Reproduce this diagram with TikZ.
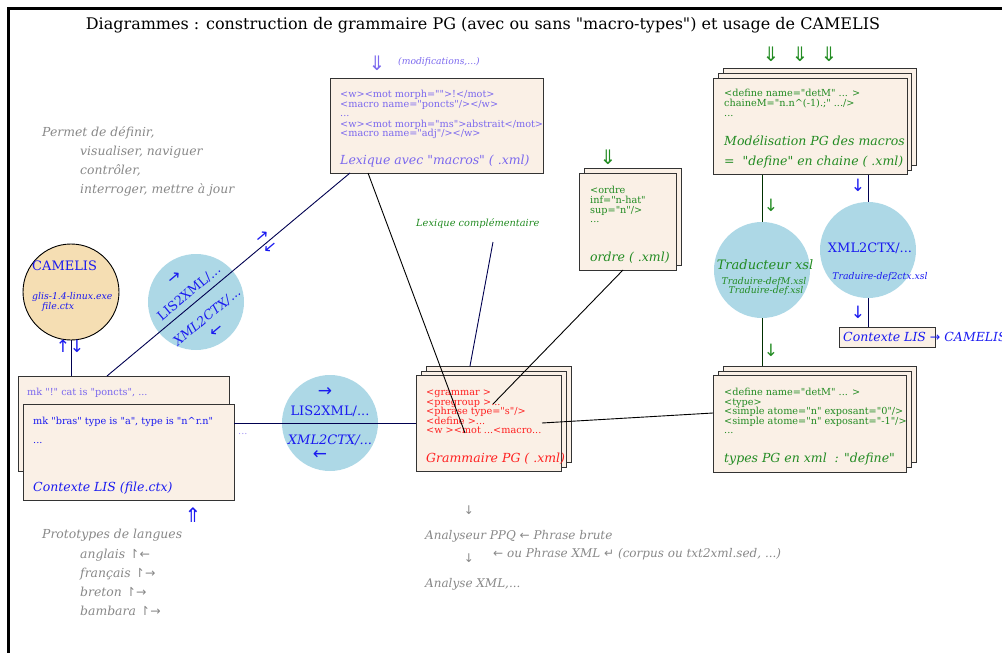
\documentclass[tikz,border=0pt]{standalone}
\usepackage{fontspec}
\setmainfont{DejaVu Serif}[Ligatures=TeXOff]
\newfontfamily\symf{DejaVu Sans}[Ligatures=TeXOff]
\definecolor{beige}{HTML}{FAF0E6}
\definecolor{lb}{HTML}{ADD8E6}
\definecolor{wheatc}{HTML}{F5DEB3}
\definecolor{purp}{HTML}{7B68EE}
\definecolor{grn}{HTML}{228B22}
\definecolor{blu}{HTML}{1A1AF0}
\definecolor{redc}{HTML}{FF2020}
\definecolor{gry}{HTML}{888888}
\definecolor{navy}{HTML}{000050}
\definecolor{dgrn}{HTML}{003000}
\definecolor{boxc}{HTML}{333333}
\tikzset{
  box/.style={draw=boxc, line width=1.3pt, fill=beige, anchor=north west, inner sep=0pt},
  ball/.style={circle, fill=lb, minimum size=96pt, inner sep=0pt},
  t/.style={inner sep=0pt, anchor=base west},
  tc/.style={inner sep=0pt, anchor=center},
  code/.style={t, font=\fontsize{9.7}{10}\selectfont},
  big/.style={t, font=\fontsize{12.5}{14}\selectfont\itshape},
  note/.style={t, gry, font=\fontsize{12.4}{14}\selectfont\itshape},
  sym/.style={tc, font=\symf\fontsize{20}{20}\selectfont},
  ar/.style={tc, font=\symf\fontsize{17}{18}\selectfont},
}
\begin{document}
\begin{tikzpicture}[x=1pt,y=-1pt]
\useasboundingbox (0,0) rectangle (1002,653);
% frame
\draw[line width=3pt] (8,653) -- (8,8) -- (1002,8);
\node[tc, font=\fontsize{16}{18}\selectfont] (title) at (483,25) {Diagrammes : construction de grammaire PG (avec ou sans "macro-types") et usage de CAMELIS};

% ---- vertical lines behind circles
\coordinate (m1) at (762,174);
\coordinate (m2) at (762,366);
\coordinate (n1) at (868,174);
\coordinate (n2) at (868,327);
\draw[dgrn, line width=0.9pt] (m1) -- (m2);
\draw[navy, line width=0.9pt] (n1) -- (n2);
\coordinate (cam1) at (71,340);
\coordinate (cam2) at (71,376);
\draw[navy, line width=0.9pt] (cam1) -- (cam2);

% ---- Lexique box
\node[box, minimum width=213pt, minimum height=95pt] (lex) at (330,78) {};
\node[sym, purp] (lexarr) at (377,63) {⇓};
\node[t, purp, font=\fontsize{9.2}{10}\selectfont\itshape] (modif) at (398,64) {(modifications,...)};
\node[code, purp] at (340,97) {<w><mot morph="">!</mot>};
\node[code, purp] at (340,107) {<macro name="poncts"/></w>};
\node[code, purp] at (340,116) {...};
\node[code, purp] at (340,127) {<w><mot morph="ms">abstrait</mot>};
\node[code, purp] at (340,136) {<macro name="adj"/></w>};
\node[big, purp] (lextitle) at (340,164) {Lexique avec "macros" ( .xml)};

% ---- Modelisation stacked box
\node[box, minimum width=193pt, minimum height=97pt] (mod3) at (723,68) {};
\node[box, minimum width=193pt, minimum height=97pt] (mod2) at (718,73) {};
\node[box, minimum width=194pt, minimum height=96pt] (mod) at (713,78) {};
\node[sym, grn] at (771,54) {⇓};
\node[sym, grn] at (800,54) {⇓};
\node[sym, grn] at (829,54) {⇓};
\node[code, grn] at (724,96) {<define name="detM" ... >};
\node[code, grn] at (724,106) {chaineM="n.n\^{}(-1).;" .../>};
\node[code, grn] at (724,116) {...};
\node[big, grn] at (724,145) {Modélisation PG des macros};
\node[big, grn] at (724,165) {=\ \ "define" en chaine ( .xml)};

% ---- ordre box
\node[box, minimum width=97pt, minimum height=97pt] (ord2) at (584,168) {};
\node[box, minimum width=97pt, minimum height=97pt] (ord) at (579,173) {};
\node[sym, grn] at (608,157) {⇓};
\node[code, grn] at (590,193) {<ordre};
\node[code, grn] at (590,203) {inf="n-hat"};
\node[code, grn] at (590,213) {sup="n"/>};
\node[code, grn] at (590,222) {...};
\node[big, grn] at (590,261) {ordre ( .xml)};

% ---- Lexique complementaire
\node[t, grn, font=\fontsize{9.8}{10}\selectfont\itshape] (lexc) at (416,226) {Lexique complémentaire};

% ---- Grammaire stacked box
\node[box, minimum width=145pt, minimum height=96pt] (gr3) at (426,366) {};
\node[box, minimum width=145pt, minimum height=96pt] (gr2) at (421,371) {};
\node[box, minimum width=145pt, minimum height=96pt] (gr) at (416,375) {};
\node[code, redc] at (426,395) {<grammar >};
\node[code, redc] at (426,405) {<pregroup >...};
\node[code, redc] at (426,414) {<phrase type="s"/>};
\node[code, redc] at (426,424) {<define >...};
\node[code, redc] at (426,433) {<w ><mot ...<macro...};
\node[big, redc] (grtitle) at (426,462) {Grammaire PG ( .xml)};

% ---- types PG stacked box
\node[box, minimum width=193pt, minimum height=96pt] (ty3) at (723,366) {};
\node[box, minimum width=193pt, minimum height=96pt] (ty2) at (718,371) {};
\node[box, minimum width=193pt, minimum height=97pt] (ty) at (713,375) {};
\node[code, grn] at (724,395) {<define name="detM" ... >};
\node[code, grn] at (724,405) {<type>};
\node[code, grn] at (724,414) {<simple atome="n" exposant="0"/>};
\node[code, grn] at (724,424) {<simple atome="n" exposant="-1"/>};
\node[code, grn] at (724,433) {...};
\node[big, grn] at (724,462) {types PG en xml\ \ : "define"};

% ---- Contexte LIS stacked
\node[box, minimum width=211pt, minimum height=95pt] (ctx2) at (18,376) {};
\node[code, purp] at (27,395) {mk "!" cat is "poncts", ...};
\node[code, purp!70] at (238,434) {...};
\node[box, minimum width=211pt, minimum height=96pt] (ctx) at (23,404) {};
\node[code, blu] at (33,424) {mk "bras" type is "a", type is "n\^{}r.n"};
\node[code, blu] at (33,443) {...};
\node[big, blu] (ctxtitle) at (33,491) {Contexte LIS (file.ctx)};
\node[sym, blu] at (193,515) {⇑};

% ---- connectors
\coordinate (lexA) at (350,173);
\coordinate (ctxA) at (107,376);
\coordinate (lexB) at (368,173);
\coordinate (grB) at (465,433);
\coordinate (ordA) at (623,270);
\coordinate (grC) at (493,404);
\coordinate (lcA) at (493,242);
\coordinate (grD) at (470,366);
\coordinate (tyA) at (713,413);
\coordinate (grE) at (542,423);
\coordinate (ctxB) at (234,423);
\coordinate (grF) at (416,423);

% ---- circles
\node[circle, draw=black, line width=0.9pt, fill=wheatc, minimum size=96pt, inner sep=0pt] (cam) at (71,292) {};
\node[t, blu, font=\fontsize{13}{14}\selectfont] at (32,270) {CAMELIS};
\node[t, blu, font=\fontsize{9.3}{10}\selectfont\itshape] at (32,299) {glis-1.4-linux.exe};
\node[t, blu, font=\fontsize{9.3}{10}\selectfont\itshape] at (42,309) {file.ctx};
\node[ar, blu] at (63,346) {↑};
\node[ar, blu] at (77,346) {↓};

\node[ball] (c1) at (196,302) {};
\node[ball] (c2) at (330,423) {};
\node[ball] (c3) at (762,270) {};
\node[ball] (c4) at (868,250) {};

\draw[navy, line width=0.9pt] (lexA) -- (ctxA);
\draw[navy, line width=0.9pt] (ctxB) -- (grF);
\draw[black, line width=0.9pt] (lexB) -- (grB);
\draw[black, line width=0.9pt] (ordA) -- (grC);
\draw[navy, line width=0.9pt] (lcA) -- (grD);
\draw[black, line width=0.9pt] (tyA) -- (grE);

% circle 1 texts (rotated)
\node[tc, blu, rotate=40, font=\symf\fontsize{16}{16}\selectfont] at (175,278) {→};
\node[tc, blu, rotate=40, font=\fontsize{12.8}{14}\selectfont] at (189,293) {LIS2XML/...};
\node[tc, blu, rotate=40, font=\fontsize{12.8}{14}\selectfont\itshape] at (207,317) {XML2CTX/...};
\node[tc, blu, rotate=40, font=\symf\fontsize{16}{16}\selectfont] at (217,331) {←};
\node[tc, blu, rotate=40, font=\symf\fontsize{16}{16}\selectfont] at (263,237) {→};
\node[tc, blu, rotate=40, font=\symf\fontsize{16}{16}\selectfont] at (271,248) {←};

% circle 2 texts
\node[ar, blu] at (325,392) {→};
\node[tc, blu, font=\fontsize{13}{14}\selectfont] at (330,411) {LIS2XML/...};
\node[tc, blu, font=\fontsize{13}{14}\selectfont\itshape] at (330,440) {XML2CTX/...};
\node[ar, blu] at (320,455) {←};

% circle 3 texts
\node[tc, grn, font=\fontsize{13}{14}\selectfont\itshape] at (765,265) {Traducteur xsl};
\node[tc, grn, font=\fontsize{9.3}{10}\selectfont\itshape] at (764,282) {Traduire-defM.xsl};
\node[tc, grn, font=\fontsize{9.3}{10}\selectfont\itshape] at (766,291) {Traduire-def.xsl};
\node[ar, grn] at (771,205) {↓};
\node[ar, grn] at (771,350) {↓};

% circle 4 texts
\node[tc, blu, font=\fontsize{13}{14}\selectfont] at (870,248) {XML2CTX/...};
\node[tc, blu, font=\fontsize{9.3}{10}\selectfont\itshape] at (880,277) {Traduire-def2ctx.xsl};
\node[ar, blu] at (858,185) {↓};
\node[ar, blu] at (858,312) {↓};

% small contexte box
\node[box, minimum width=96pt, minimum height=20pt] (cbox) at (839,327) {};
\node[t, blu, font=\fontsize{12.5}{14}\selectfont\itshape] (clis) at (843,341) {Contexte LIS {\symf →} CAMELIS};

% ---- grey notes
\node[note] at (42,136) {Permet de définir,};
\node[note] at (80,155) {visualiser, naviguer};
\node[note] at (80,174) {contrôler,};
\node[note] at (80,193) {interroger, mettre à jour};

\node[note] at (42,538) {Prototypes de langues};
\node[note] at (80,558) {anglais {\symf\upshape ↾←}};
\node[note] at (80,577) {français {\symf\upshape ↾→}};
\node[note] at (80,596) {breton {\symf\upshape ↾→}};
\node[note] at (80,615) {bambara {\symf\upshape ↾→}};

\node[tc, gry, font=\symf\fontsize{12}{12}\selectfont] at (469,510) {↓};
\node[note, font=\fontsize{12}{14}\selectfont\itshape] at (425,539) {Analyseur PPQ {\symf\upshape ←} Phrase brute};
\node[tc, gry, font=\symf\fontsize{12}{12}\selectfont] at (469,558) {↓};
\node[note, font=\fontsize{12}{14}\selectfont\itshape] at (493,557) {{\symf\upshape ←} ou Phrase XML {\symf\upshape ↵} (corpus ou txt2xml.sed, ...)};
\node[note, font=\fontsize{12}{14}\selectfont\itshape] at (425,587) {Analyse XML,...};
\end{tikzpicture}
\end{document}
